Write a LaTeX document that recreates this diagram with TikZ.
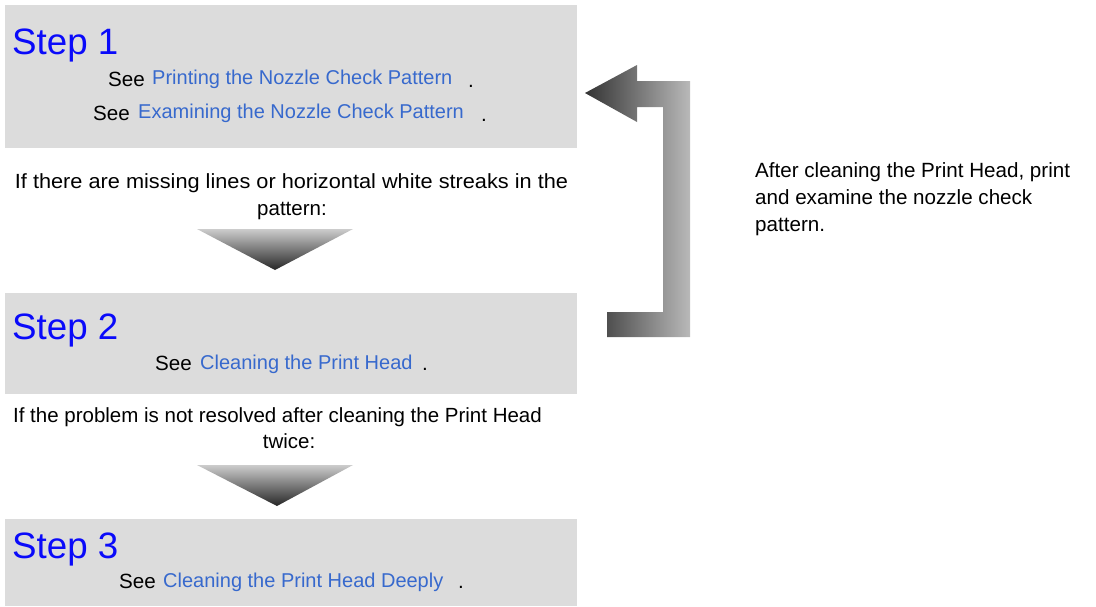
\documentclass[tikz,border=0pt]{standalone}
\usepackage{fontspec}
\setmainfont{Liberation Sans}
\definecolor{boxgray}{RGB}{220,220,220}
\definecolor{stepblue}{RGB}{10,10,250}
\definecolor{linkblue}{RGB}{55,105,205}
\tikzset{
  stepbox/.style={fill=boxgray,draw=none},
  steptitle/.style={anchor=base west,inner sep=0pt,text=stepblue,font=\fontsize{36.7}{40}\selectfont},
  body/.style={anchor=base west,inner sep=0pt,text=black,font=\fontsize{20.6}{24}\selectfont},
  link/.style={anchor=base west,inner sep=0pt,text=linkblue,font=\fontsize{20}{24}\selectfont},
  note/.style={anchor=base,inner sep=0pt,text=black,font=\fontsize{20.5}{24}\selectfont},
  downarrow/.style={top color=gray!40,bottom color=black!85,draw=none},
}
\begin{document}
\begin{tikzpicture}[x=1pt,y=-1pt]
\useasboundingbox (0,0) rectangle (1096,606);
% boxes
\fill[stepbox] (5,5) rectangle (577,148);
\fill[stepbox] (5,293) rectangle (577,394);
\fill[stepbox] (5,519) rectangle (577,606);
% step 1
\node[steptitle] (s1) at (12,54) {Step 1};
\node[body] (s1see1) at (108,86) {See};
\node[link] (s1link1) at (152,84) {Printing the Nozzle Check Pattern};
\node[body] (s1dot1) at (468,87) {.};
\node[body] (s1see2) at (93,120) {See};
\node[link] (s1link2) at (138,118) {Examining the Nozzle Check Pattern};
\node[body] (s1dot2) at (481,121) {.};
% note 1
\node[note] (n1a) at (291.5,188) {\scalebox{1.06}[1]{If there are missing lines or horizontal white streaks in the}};
\node[note] (n1b) at (292,215) {pattern:};
% arrow 1
\coordinate (a1l) at (197,229);
\coordinate (a1r) at (353,229);
\coordinate (a1t) at (275,270);
\shade[downarrow] (a1l) -- (a1r) -- (a1t) -- cycle;
% step 2
\node[steptitle] (s2) at (12,339) {Step 2};
\node[body] (s2see) at (155,370) {See};
\node[link] (s2link) at (200,369) {Cleaning the Print Head};
\node[body] (s2dot) at (422,370) {.};
% note 2
\node[note] (n2a) at (277.5,422) {If the problem is not resolved after cleaning the Print Head};
\node[note] (n2b) at (289,448) {twice:};
% arrow 2
\coordinate (a2l) at (197,465);
\coordinate (a2r) at (353,465);
\coordinate (a2t) at (277,506);
\shade[downarrow] (a2l) -- (a2r) -- (a2t) -- cycle;
% step 3
\node[steptitle] (s3) at (12,558) {Step 3};
\node[body] (s3see) at (119,588) {See};
\node[link] (s3link) at (163,587) {Cleaning the Print Head Deeply};
\node[body] (s3dot) at (458,588) {.};
% return arrow
\shade[left color=black!80,right color=gray!55,draw=none]
  (585,93) -- (637,65) -- (637,81) -- (690,81) -- (690,337) -- (607,337)
  -- (607,312) -- (663,312) -- (663,107) -- (637,107) -- (637,122) -- cycle;
% side note
\node[body] (r1) at (755,177) {After cleaning the Print Head, print};
\node[body] (r2) at (755,204) {and examine the nozzle check};
\node[body] (r3) at (755,231) {pattern.};
\end{tikzpicture}
\end{document}
